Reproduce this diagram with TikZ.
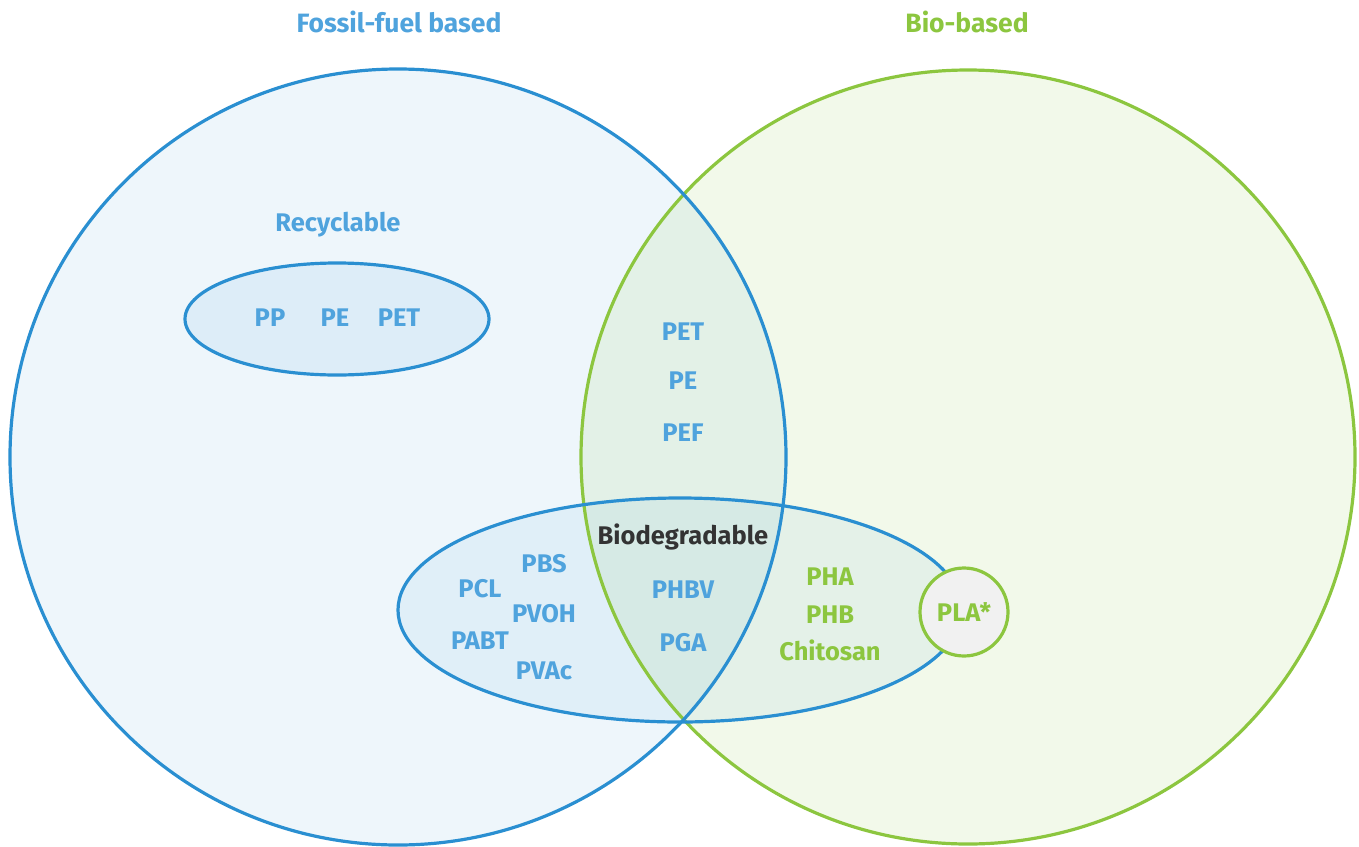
\documentclass[tikz,border=0pt]{standalone}
\usepackage{fontspec}
\setmainfont{Fira Sans}
\definecolor{bline}{HTML}{2A8FD1}
\definecolor{btext}{HTML}{4FA3DD}
\definecolor{gline}{HTML}{8CC63F}
\definecolor{dtext}{HTML}{333333}
\definecolor{plafill}{HTML}{F1F1F1}
\tikzset{
  lbl/.style={font=\bfseries\fontsize{25.5}{26}\selectfont, inner sep=0pt, anchor=center},
  bt/.style={lbl, text=btext},
  gt/.style={lbl, text=gline},
  title/.style={font=\bfseries\fontsize{26.5}{27}\selectfont, inner sep=0pt},
  ring/.style={line width=3.2pt},
}
\begin{document}
\begin{tikzpicture}[x=1pt,y=-1pt]
\useasboundingbox (0,0) rectangle (1359,846);
% fills
\fill[bline, fill opacity=0.08] (398,457) circle (388);
\fill[gline, fill opacity=0.11] (968,457) circle (387);
\fill[bline, fill opacity=0.09] (337,319) ellipse [x radius=152, y radius=56];
\fill[bline, fill opacity=0.07] (680,610) ellipse [x radius=282, y radius=112];
% strokes
\draw[ring, gline] (968,457) circle (387);
\draw[ring, bline] (398,457) circle (388);
\draw[ring, bline] (337,319) ellipse [x radius=152, y radius=56];
\draw[ring, bline] (680,610) ellipse [x radius=282, y radius=112];
\node[circle, draw=gline, line width=3.2pt, fill=plafill, minimum size=88pt, inner sep=0pt] (pla) at (964,612) {};
% titles
\node[title, text=btext] (fossil) at (399,22) {Fossil-fuel based};
\node[title, text=gline] (bio) at (967,22) {Bio-based};
\node[bt] (recy) at (338,225) {Recyclable};
\node[bt] (pp) at (270,318) {PP};
\node[bt] (pe1) at (335,318) {PE};
\node[bt] (pet1) at (399,318) {PET};
\node[bt] (pet2) at (683,332) {PET};
\node[bt] (pe2) at (683,381) {PE};
\node[bt] (pef) at (683,433) {PEF};
\node[lbl, text=dtext] (biod) at (683,537) {Biodegradable};
\node[bt] (pbs) at (544,564) {PBS};
\node[bt] (pcl) at (480,589) {PCL};
\node[bt] (pvoh) at (544,614) {PVOH};
\node[bt] (pabt) at (480,641) {PABT};
\node[bt] (pvac) at (544,671) {PVAc};
\node[bt] (phbv) at (683,590) {PHBV};
\node[bt] (pga) at (683,643) {PGA};
\node[gt] (pha) at (830,577) {PHA};
\node[gt] (phb) at (830,615) {PHB};
\node[gt] (chi) at (830,650) {Chitosan};
\node[gt] (plat) at (pla) {PLA*};
\end{tikzpicture}
\end{document}
